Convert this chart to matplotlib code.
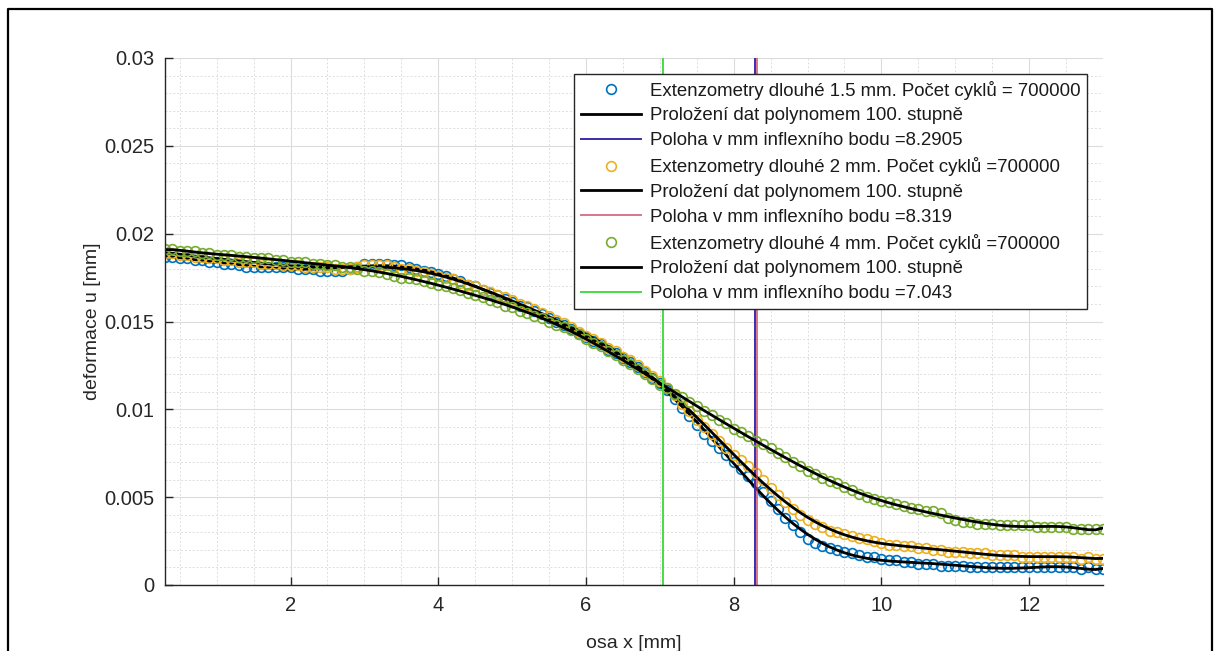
import numpy as np
import matplotlib
matplotlib.use("Agg")
import matplotlib.pyplot as plt
from matplotlib.lines import Line2D
from matplotlib.ticker import MultipleLocator, FormatStrFormatter

plt.rcParams['font.family'] = ['Liberation Sans', 'DejaVu Sans']

# sample positions along the axis [mm]
osa_x = np.round(np.arange(3, 131) / 10, 1)   # 0.3 ... 13.0

# Extenzometry 1.5 mm
u_15 = [0.0187, 0.0187, 0.0186, 0.0186, 0.0185, 0.0185, 0.0184,
        0.0184, 0.0183, 0.0183, 0.0182, 0.0181, 0.0181, 0.0181, 0.0181, 0.0181, 0.0181,
        0.0181, 0.0180, 0.0180, 0.0180, 0.0179, 0.0179, 0.0179, 0.0179, 0.0180, 0.0181,
        0.0183, 0.0183, 0.0183, 0.0183, 0.0182, 0.0182, 0.0181, 0.0180, 0.0179, 0.0178,
        0.0177, 0.0176, 0.0174, 0.0173, 0.0171, 0.0170, 0.0168, 0.0166, 0.0165, 0.0163,
        0.0161, 0.0159, 0.0158, 0.0156, 0.0154, 0.0152, 0.0150, 0.0148, 0.0146, 0.0143,
        0.0141, 0.0139, 0.0137, 0.0134, 0.0132, 0.0129, 0.0127, 0.0124, 0.0121, 0.0118,
        0.0115, 0.0111, 0.0106, 0.0101, 0.0096, 0.0091, 0.0086, 0.0082, 0.0078, 0.0074,
        0.0070, 0.0066, 0.0062, 0.0058, 0.0053, 0.0048, 0.0043, 0.0038, 0.0034, 0.0030,
        0.0026, 0.0024, 0.0022, 0.0021, 0.0020, 0.0019, 0.0018, 0.0017, 0.0016, 0.0016,
        0.0015, 0.0014, 0.0014, 0.0013, 0.0013, 0.0012, 0.0012, 0.0012, 0.0011, 0.0011,
        0.0011, 0.0011, 0.0010, 0.0010, 0.0010, 0.0010, 0.0010, 0.0010, 0.0010, 0.0010,
        0.0010, 0.0010, 0.0010, 0.0010, 0.0010, 0.0010, 0.0010, 0.0009, 0.0010, 0.0009,
        0.0009]

# Extenzometry 2 mm
u_2 = [0.0189, 0.0189, 0.0188, 0.0188, 0.0187, 0.0187, 0.0186,
       0.0186, 0.0185, 0.0185, 0.0184, 0.0184, 0.0184, 0.0183, 0.0183, 0.0183, 0.0182,
       0.0182, 0.0182, 0.0181, 0.0181, 0.0181, 0.0181, 0.0180, 0.0180, 0.0180, 0.0181,
       0.0182, 0.0182, 0.0182, 0.0182, 0.0181, 0.0180, 0.0180, 0.0179, 0.0178, 0.0177,
       0.0176, 0.0175, 0.0174, 0.0172, 0.0171, 0.0170, 0.0168, 0.0167, 0.0165, 0.0164,
       0.0162, 0.0160, 0.0159, 0.0157, 0.0155, 0.0153, 0.0151, 0.0149, 0.0147, 0.0144,
       0.0142, 0.0140, 0.0138, 0.0135, 0.0133, 0.0130, 0.0128, 0.0125, 0.0122, 0.0119,
       0.0116, 0.0112, 0.0108, 0.0103, 0.0099, 0.0094, 0.0090, 0.0086, 0.0082, 0.0078,
       0.0074, 0.0071, 0.0068, 0.0064, 0.0060, 0.0055, 0.0051, 0.0047, 0.0043, 0.0040,
       0.0037, 0.0035, 0.0033, 0.0031, 0.0030, 0.0029, 0.0028, 0.0027, 0.0026, 0.0025,
       0.0024, 0.0023, 0.0023, 0.0022, 0.0022, 0.0021, 0.0021, 0.0020, 0.0020, 0.0019,
       0.0019, 0.0019, 0.0018, 0.0018, 0.0018, 0.0017, 0.0017, 0.0017, 0.0017, 0.0016,
       0.0016, 0.0016, 0.0016, 0.0016, 0.0016, 0.0016, 0.0016, 0.0015, 0.0016, 0.0015,
       0.0015]

# Extenzometry 4 mm
u_4 = [0.0191, 0.0191, 0.0190, 0.0190, 0.0190, 0.0189, 0.0189,
       0.0188, 0.0188, 0.0188, 0.0187, 0.0187, 0.0186, 0.0186, 0.0186, 0.0185, 0.0185,
       0.0184, 0.0184, 0.0184, 0.0183, 0.0183, 0.0182, 0.0182, 0.0181, 0.0181, 0.0180,
       0.0179, 0.0179, 0.0178, 0.0177, 0.0176, 0.0175, 0.0175, 0.0174, 0.0173, 0.0172,
       0.0171, 0.0170, 0.0169, 0.0168, 0.0166, 0.0165, 0.0164, 0.0162, 0.0161, 0.0159,
       0.0158, 0.0156, 0.0155, 0.0153, 0.0152, 0.0150, 0.0148, 0.0147, 0.0145, 0.0143,
       0.0140, 0.0138, 0.0136, 0.0133, 0.0131, 0.0128, 0.0126, 0.0123, 0.0120, 0.0117,
       0.0114, 0.0112, 0.0109, 0.0107, 0.0104, 0.0102, 0.0099, 0.0097, 0.0094, 0.0092,
       0.0089, 0.0087, 0.0085, 0.0082, 0.0080, 0.0078, 0.0075, 0.0073, 0.0070, 0.0068,
       0.0065, 0.0063, 0.0061, 0.0059, 0.0058, 0.0056, 0.0054, 0.0052, 0.0050, 0.0049,
       0.0048, 0.0047, 0.0046, 0.0045, 0.0044, 0.0043, 0.0042, 0.0042, 0.0041, 0.0038,
       0.0037, 0.0036, 0.0036, 0.0035, 0.0035, 0.0035, 0.0034, 0.0034, 0.0034, 0.0034,
       0.0034, 0.0033, 0.0033, 0.0033, 0.0033, 0.0033, 0.0032, 0.0032, 0.0032, 0.0032,
       0.0032]

inflex = [8.2905, 8.319, 7.043]
delky = ['1.5', '2', '4']
cykly = ['= 700000', '=700000', '=700000']

series = [u_15, u_2, u_4]
marker_colors = ['#0072BD', '#EDB120', '#77AC30']
vline_colors = ['#3a2da8', '#c83c5a', '#44dd44']
vline_alpha = [1.0, 0.7, 1.0]

fig = plt.figure(figsize=(12.15, 6.51), dpi=100)
ax = fig.add_axes([165 / 1215, 66 / 651, (1103 - 165) / 1215, (585 - 58) / 651])

handles = []
for i, u in enumerate(series):
    u = np.array(u)
    h1, = ax.plot(osa_x, u, 'o', ms=7, mfc='none', mec=marker_colors[i], mew=1.2,
                  label='Extenzometry dlouhé %s mm. Počet cyklů %s' % (delky[i], cykly[i]))
    # polynomial fit of the data (as in the original chart)
    p = np.polynomial.Polynomial.fit(osa_x, u, 15)
    h2, = ax.plot(osa_x, p(osa_x), '-', color='black', lw=2.0,
                  label='Proložení dat polynomem 100. stupně')
    h3 = ax.axvline(inflex[i], color=vline_colors[i], lw=1.4, alpha=vline_alpha[i],
                    label='Poloha v mm inflexního bodu =%g' % inflex[i])
    handles += [h1, h2, h3]

ax.set_xlim(0.3, 13)
ax.set_ylim(0, 0.03)
ax.xaxis.set_major_locator(MultipleLocator(2))
ax.xaxis.set_minor_locator(MultipleLocator(0.5))
ax.yaxis.set_major_locator(MultipleLocator(0.005))
ax.yaxis.set_minor_locator(MultipleLocator(0.001))
ax.yaxis.set_major_formatter(FormatStrFormatter('%g'))
ax.set_axisbelow(True)
ax.grid(True, which='major', color='#dcdcdc', lw=0.8, ls='-')
ax.grid(True, which='minor', color='#dedede', lw=0.7, ls=(0, (2, 2)))

for s in ['top', 'right']:
    ax.spines[s].set_visible(False)
for s in ['left', 'bottom']:
    ax.spines[s].set_color('#262626')
    ax.spines[s].set_linewidth(1.0)
ax.tick_params(which='major', direction='in', length=6, width=1.0, colors='#262626',
               labelsize=14.5, pad=8)
ax.tick_params(which='minor', length=0)

ax.set_xlabel('osa x [mm]', fontsize=14, color='#262626', labelpad=14)
ax.set_ylabel('deformace u [mm]', fontsize=14, color='#262626', labelpad=2)

leg = ax.legend(handles=handles, loc='upper right',
                bbox_to_anchor=(1087 / 1215, (651 - 74) / 651),
                bbox_transform=fig.transFigure, borderaxespad=0,
                fontsize=13.4, handlelength=3.2, handletextpad=0.5,
                labelspacing=0.42, borderpad=0.35, fancybox=False,
                framealpha=1, edgecolor='#262626')
leg.get_frame().set_linewidth(1.0)
for t in leg.get_texts():
    t.set_color('#1a1a1a')

# figure outline
fx0, fx1, fy1 = 8 / 1215, 1212 / 1215, (651 - 9) / 651
fig.add_artist(Line2D([fx0, fx0, fx1, fx1], [0, fy1, fy1, 0],
                      transform=fig.transFigure, color='black', lw=1.6))

fig.savefig('out.png', dpi=100)
